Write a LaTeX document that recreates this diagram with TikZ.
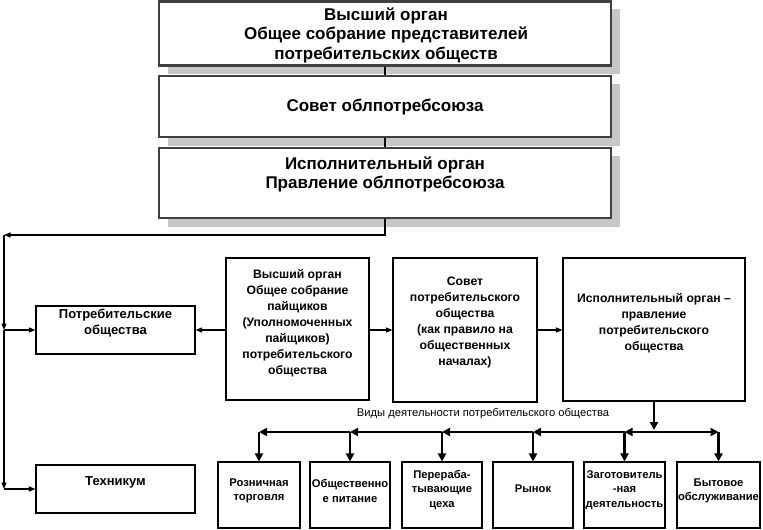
\documentclass[tikz,border=0pt]{standalone}
\usepackage{fontspec}
\setmainfont{Liberation Sans}
\usetikzlibrary{arrows.meta}
\begin{document}
\begin{tikzpicture}[x=1pt,y=-1pt,
  topbox/.style={draw=black!75, line width=2.4pt, fill=white, minimum width=452pt, inner sep=0pt},
  shade/.style={fill=black!22},
  midbox/.style={draw=black, line width=1.1pt, fill=white, inner sep=0pt},
  toptxt/.style={font=\fontsize{17}{19.5}\selectfont\bfseries, align=center, inner sep=0pt},
  lefttxt/.style={font=\fontsize{13}{16}\selectfont\bfseries, align=center, inner sep=0pt},
  midtxt/.style={font=\fontsize{12.2}{16}\selectfont\bfseries, align=center, inner sep=0pt},
  bottxt/.style={font=\fontsize{11.2}{14.5}\selectfont\bfseries, align=center, inner sep=0pt},
  plaintxt/.style={font=\fontsize{11.2}{13}\selectfont, inner sep=0pt},
  conn/.style={line width=1.2pt, -{Triangle[length=6.5pt,width=5pt]}},
  thinline/.style={line width=1.2pt},
  bus/.style={line width=2.6pt, -{Triangle[length=8pt,width=8pt]}}
]
\useasboundingbox (0,0) rectangle (763,530);

% shadows
\fill[shade] (168,9) rectangle (620,74);
\fill[shade] (168,84) rectangle (620,146);
\fill[shade] (168,156) rectangle (620,227);

% top boxes
\node[topbox, minimum height=64pt] (top1) at (385,33.5) {};
\node[topbox, minimum height=61pt] (top2) at (385,106.5) {};
\node[topbox, minimum height=70pt] (top3) at (385,183) {};
\draw[thinline] (top1.south) -- (top2.north);
\draw[thinline] (top2.south) -- (top3.north);
\node[toptxt] (t1) at (386,35) {Высший орган\\Общее собрание представителей\\потребительских обществ};
\node[toptxt] (t2) at (385,107.5) {Совет облпотребсоюза};
\node[toptxt] (t3) at (385,174.5) {Исполнительный орган\\Правление облпотребсоюза};

% middle row
\node[midbox, minimum width=159pt, minimum height=48pt] (potreb) at (115.5,330) {};
\node[lefttxt] (potrebt) at (115.5,323) {Потребительские\\общества};
\node[midbox, minimum width=159pt, minimum height=48pt] (tech) at (115.5,489) {};
\node[lefttxt] (techt) at (115.5,482) {Техникум};
\node[midbox, minimum width=143pt, minimum height=142pt] (vys) at (297.5,329) {};
\node[midtxt] (vyst) at (297.5,323) {Высший орган\\Общее собрание\\пайщиков\\(Уполномоченных\\пайщиков)\\потребительского\\общества};
\node[midbox, minimum width=144pt, minimum height=144pt] (sovet) at (465,330) {};
\node[midtxt] (sovett) at (465,322.5) {Совет\\потребительского\\общества\\(как правило на\\общественных\\началах)};
\node[midbox, minimum width=182pt, minimum height=143pt] (isp) at (654,329.5) {};
\node[midtxt] (ispt) at (654,323.5) {Исполнительный орган –\\правление\\потребительского\\общества};

% left bus
\coordinate (cL) at (4,235);
\coordinate (cP) at (4,330);
\coordinate (cT) at (4,489);
\draw[conn] (top3.south) |- (cL);
\draw[conn] (cL) -- (cP);
\draw[conn] (cP) -- (cT);
\draw[conn] (cP) -- (potreb.west);
\draw[conn] (cT) -- (tech.west);

% middle arrows
\draw[conn] (vys.west |- potreb.east) -- (potreb.east);
\draw[conn] (vys.east |- sovet.west) -- (sovet.west);
\draw[conn] (sovet.east) -- (sovet.east -| isp.west);

% bottom boxes
\node[midbox, minimum width=82pt, minimum height=66pt] (b1) at (259,495) {};
\node[midbox, minimum width=80pt, minimum height=66pt] (b2) at (350,495) {};
\node[midbox, minimum width=80pt, minimum height=66pt] (b3) at (442,495) {};
\node[midbox, minimum width=80pt, minimum height=66pt] (b4) at (533,495) {};
\node[midbox, minimum width=81pt, minimum height=66pt] (b5) at (624.5,495) {};
\node[midbox, minimum width=83pt, minimum height=66pt] (b6) at (718.5,495) {};
\node[bottxt] (b1t) at (259,491) {Розничная\\торговля};
\node[bottxt] (b2t) at (350,491) {Общественно\\е питание};
\node[bottxt] (b3t) at (442,490) {Перераба-\\тывающие\\цеха};
\node[bottxt] (b4t) at (533,489) {Рынок};
\node[bottxt] (b5t) at (624.5,490) {Заготовитель\\-ная\\деятельность};
\node[bottxt] (b6t) at (718.5,491) {Бытовое\\обслуживание};

\node[plaintxt] (lbl) at (483,414) {Виды деятельности потребительского общества};

% bottom bus
\coordinate (hub) at (654,432);
\coordinate (hubtop) at (654,430);
\coordinate (j1) at (259,432);
\coordinate (j2) at (350,432);
\coordinate (j3) at (442,432);
\coordinate (j4) at (533,432);
\coordinate (j5) at (624.5,432);
\coordinate (j6) at (718.5,432);
\draw[bus] (isp.south) -- (hubtop);
\draw[bus] (hub) -- (j5);
\draw[bus] (j5) -- (j4);
\draw[bus] (j4) -- (j3);
\draw[bus] (j3) -- (j2);
\draw[bus] (j2) -- (j1);
\draw[bus] (hub) -- (j6);
\draw[bus] (j1) -- (b1.north);
\draw[bus] (j2) -- (b2.north);
\draw[bus] (j3) -- (b3.north);
\draw[bus] (j4) -- (b4.north);
\draw[bus] (j5) -- (b5.north);
\draw[bus] (j6) -- (b6.north);
\end{tikzpicture}
\end{document}
